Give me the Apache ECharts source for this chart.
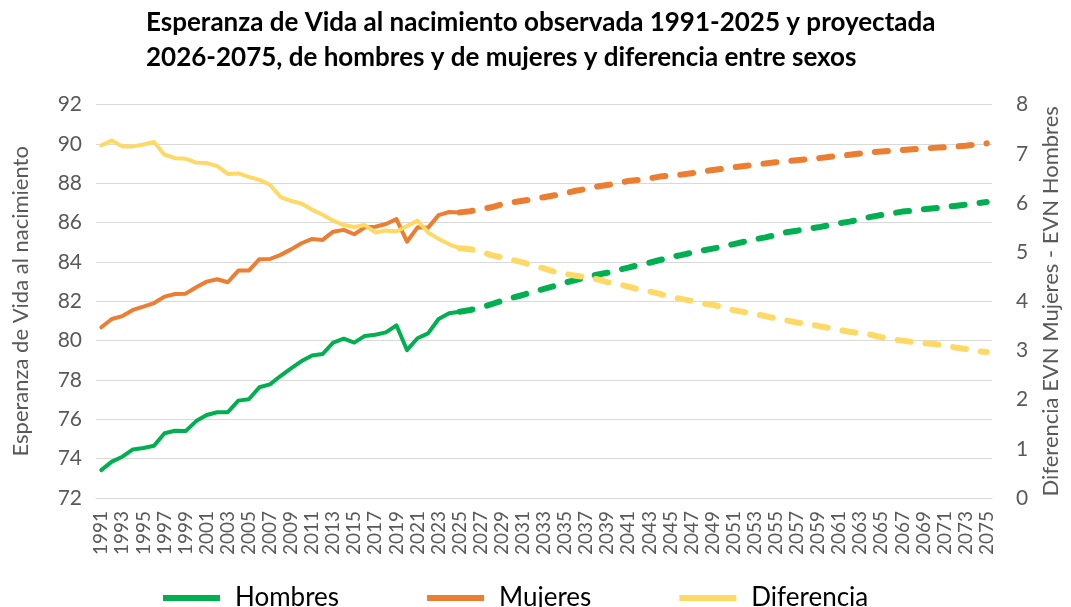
<!DOCTYPE html>
<html>
<head>
<meta charset="utf-8">
<script src="https://cdn.jsdelivr.net/npm/echarts@6/dist/echarts.min.js"></script>
<style>
  html, body { margin: 0; padding: 0; background: #fff; }
  #chart { width: 1071px; height: 607px; }
</style>
</head>
<body>
<div id="chart"></div>
<script>
// years 1991..2075
var years = [];
for (var y = 1991; y <= 2075; y++) years.push(String(y));
var lastObserved = '2025';

var hombres = [
  73.42, 73.85, 74.10, 74.47, 74.54, 74.66, 75.29, 75.42, 75.40, 75.91,
  76.22, 76.36, 76.36, 76.95, 77.02, 77.63, 77.78, 78.20, 78.59, 78.96,
  79.25, 79.32, 79.90, 80.10, 79.90, 80.24, 80.30, 80.42, 80.78, 79.52,
  80.12, 80.37, 81.10, 81.39, 81.47, 81.56, 81.68, 81.85, 82.02, 82.18,
  82.32, 82.49, 82.63, 82.78, 82.95, 83.08, 83.22, 83.35, 83.45, 83.59,
  83.71, 83.85, 83.96, 84.10, 84.24, 84.35, 84.47, 84.58, 84.68, 84.78,
  84.91, 85.03, 85.15, 85.25, 85.37, 85.51, 85.59, 85.69, 85.76, 85.86,
  85.97, 86.05, 86.17, 86.29, 86.39, 86.47, 86.56, 86.61, 86.68, 86.73,
  86.78, 86.85, 86.91, 86.98, 87.05
];
var mujeres = [
  80.68, 81.10, 81.25, 81.56, 81.73, 81.91, 82.24, 82.37, 82.39, 82.71,
  83.00, 83.12, 82.97, 83.56, 83.56, 84.14, 84.15, 84.36, 84.64, 84.95,
  85.17, 85.12, 85.54, 85.63, 85.41, 85.76, 85.79, 85.93, 86.18, 85.03,
  85.76, 85.74, 86.38, 86.54, 86.52, 86.58, 86.68, 86.78, 86.93, 87.03,
  87.11, 87.20, 87.29, 87.39, 87.49, 87.62, 87.71, 87.83, 87.91, 88.00,
  88.12, 88.17, 88.25, 88.34, 88.39, 88.44, 88.51, 88.59, 88.68, 88.74,
  88.81, 88.88, 88.95, 89.01, 89.07, 89.13, 89.17, 89.22, 89.27, 89.34,
  89.39, 89.45, 89.52, 89.57, 89.61, 89.66, 89.69, 89.73, 89.76, 89.80,
  89.83, 89.86, 89.91, 89.98, 90.03
];
var diferencia = [
  7.17, 7.27, 7.15, 7.15, 7.19, 7.24, 6.98, 6.91, 6.90, 6.82,
  6.81, 6.75, 6.59, 6.60, 6.53, 6.47, 6.37, 6.12, 6.04, 5.99,
  5.86, 5.76, 5.64, 5.55, 5.51, 5.55, 5.40, 5.44, 5.42, 5.53,
  5.64, 5.40, 5.27, 5.16, 5.08, 5.06, 5.01, 4.94, 4.89, 4.84,
  4.79, 4.72, 4.67, 4.60, 4.56, 4.52, 4.49, 4.45, 4.39, 4.35,
  4.30, 4.24, 4.20, 4.15, 4.09, 4.05, 4.01, 3.96, 3.93, 3.88,
  3.82, 3.78, 3.74, 3.70, 3.65, 3.61, 3.57, 3.54, 3.50, 3.46,
  3.42, 3.38, 3.35, 3.32, 3.27, 3.23, 3.20, 3.17, 3.15, 3.13,
  3.10, 3.06, 3.03, 2.99, 2.97
];

var leftTicks = { min: 72, max: 92, interval: 2 };
var rightTicks = { min: 0, max: 8, interval: 1 };

var cut = years.indexOf(lastObserved);
function observed(arr) { return arr.map(function (v, i) { return i <= cut ? v : null; }); }
function projected(arr) { return arr.map(function (v, i) { return i >= cut ? v : null; }); }

var FONT = 'Lato';
var GREY = '#595959';
var colors = { Hombres: '#00B050', Mujeres: '#ED7D31', Diferencia: '#FFD966' };

function solid(name, arr, axis) {
  return {
    name: name, type: 'line', yAxisIndex: axis, data: observed(arr),
    symbol: 'none', smooth: false, color: colors[name],
    lineStyle: { width: 4, color: colors[name], cap: 'round', join: 'round' }
  };
}
function dashed(name, arr, axis) {
  return {
    name: name, type: 'line', yAxisIndex: axis, data: projected(arr),
    symbol: 'none', smooth: false, color: colors[name],
    lineStyle: { width: 6, color: colors[name], type: [13, 15], cap: 'round', join: 'round' }
  };
}

var chart = echarts.init(document.getElementById('chart'), null, { renderer: 'canvas' });
chart.setOption({
  animation: false,
  backgroundColor: '#fff',
  textStyle: { fontFamily: FONT },
  title: {
    text: 'Esperanza de Vida al nacimiento observada 1991-2025 y proyectada\n2026-2075, de hombres y de mujeres y diferencia entre sexos',
    left: 141, top: 0,
    textStyle: { fontFamily: FONT, fontSize: 26, fontWeight: 'bold', color: '#000', lineHeight: 35 }
  },
  legend: {
    data: ['Hombres', 'Mujeres', 'Diferencia'],
    left: 158, top: 580,
    icon: 'rect', itemWidth: 57, itemHeight: 6, itemGap: 88,
    textStyle: { fontFamily: FONT, fontSize: 26, color: '#000', padding: [0, 0, 0, 10] }
  },
  grid: { left: 96, right: 79, top: 104.6, bottom: 109, containLabel: false },
  xAxis: {
    type: 'category', data: years, boundaryGap: true,
    axisLine: { show: true, lineStyle: { color: '#d9d9d9', width: 1 } },
    axisTick: { show: false },
    axisLabel: { interval: 1, rotate: 90, margin: 13, fontFamily: FONT, fontSize: 19, color: GREY }
  },
  yAxis: [
    {
      type: 'value', min: leftTicks.min, max: leftTicks.max, interval: leftTicks.interval,
      name: 'Esperanza de Vida al nacimiento', nameLocation: 'middle', nameGap: 64,
      nameTextStyle: { fontFamily: FONT, fontSize: 22, color: GREY },
      axisLine: { show: false }, axisTick: { show: false },
      axisLabel: { margin: 14, fontFamily: FONT, fontSize: 21, color: GREY },
      splitLine: { lineStyle: { color: '#d9d9d9', width: 1 } }
    },
    {
      type: 'value', min: rightTicks.min, max: rightTicks.max, interval: rightTicks.interval,
      name: 'Diferencia EVN Mujeres - EVN Hombres', nameLocation: 'middle', nameGap: 48,
      nameTextStyle: { fontFamily: FONT, fontSize: 22, color: GREY },
      axisLine: { show: false }, axisTick: { show: false },
      axisLabel: { margin: 24, fontFamily: FONT, fontSize: 21, color: GREY },
      splitLine: { show: false }
    }
  ],
  series: [
    solid('Hombres', hombres, 0),
    dashed('Hombres', hombres, 0),
    solid('Mujeres', mujeres, 0),
    dashed('Mujeres', mujeres, 0),
    solid('Diferencia', diferencia, 1),
    dashed('Diferencia', diferencia, 1)
  ]
});
</script>
</body>
</html>
